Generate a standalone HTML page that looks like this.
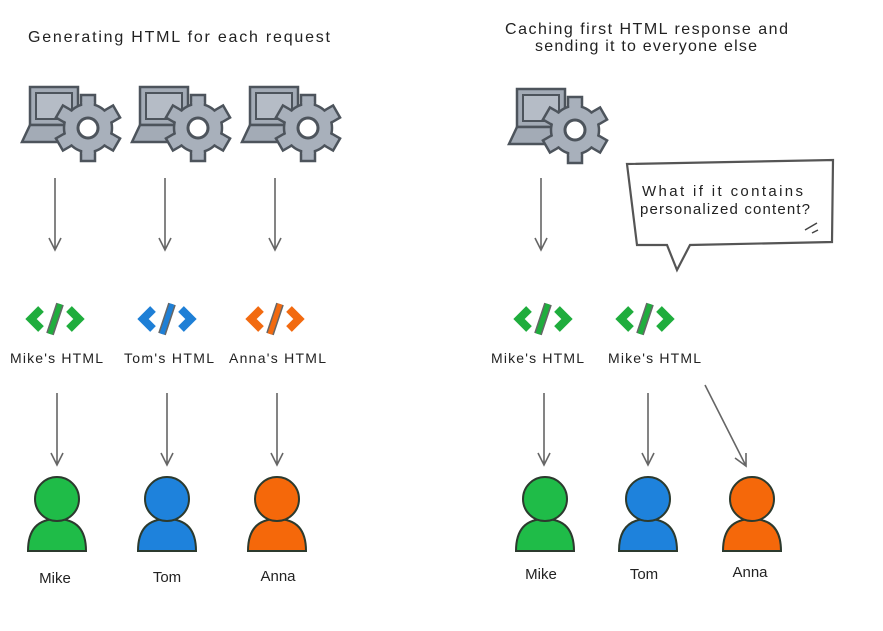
<!DOCTYPE html>
<html><head><meta charset="utf-8"><style>
html,body{margin:0;padding:0;background:#fff;width:883px;height:631px;overflow:hidden}
svg text{font-family:"Liberation Sans",sans-serif;fill:#222}
</style></head><body>
<svg width="883" height="631" viewBox="0 0 883 631" xmlns="http://www.w3.org/2000/svg">
<defs>
<g id="srv">
  <rect x="-58" y="-41" width="48" height="38" fill="#a3abb6" stroke="#4d545c" stroke-width="2.5"/>
  <rect x="-52" y="-35" width="36" height="26" fill="#b5bcc6" stroke="#4d545c" stroke-width="2"/>
  <polygon points="-58,-3 -20,-3 -20,14 -66,14" fill="#a3abb6" stroke="#4d545c" stroke-width="2.5"/>
  <g fill="#a8b0bb" stroke="#4d545c" stroke-width="2.5">
    <rect x="-7" y="-33" width="14" height="14" transform="rotate(0)"/>
    <rect x="-7" y="-33" width="14" height="14" transform="rotate(60)"/>
    <rect x="-7" y="-33" width="14" height="14" transform="rotate(120)"/>
    <rect x="-7" y="-33" width="14" height="14" transform="rotate(180)"/>
    <rect x="-7" y="-33" width="14" height="14" transform="rotate(240)"/>
    <rect x="-7" y="-33" width="14" height="14" transform="rotate(300)"/>
  </g>
  <circle r="24" fill="#a8b0bb" stroke="#4d545c" stroke-width="2.5"/>
  <g fill="#a8b0bb">
    <rect x="-5.7" y="-26" width="11.4" height="8" transform="rotate(0)"/>
    <rect x="-5.7" y="-26" width="11.4" height="8" transform="rotate(60)"/>
    <rect x="-5.7" y="-26" width="11.4" height="8" transform="rotate(120)"/>
    <rect x="-5.7" y="-26" width="11.4" height="8" transform="rotate(180)"/>
    <rect x="-5.7" y="-26" width="11.4" height="8" transform="rotate(240)"/>
    <rect x="-5.7" y="-26" width="11.4" height="8" transform="rotate(300)"/>
  </g>
  <circle r="10" fill="#fff" stroke="#4d545c" stroke-width="3"/>
</g>
<g id="code">
  <polyline points="-14,-10 -24,0 -14,10" fill="none" stroke="currentColor" stroke-width="8"/>
  <polyline points="14,-10 24,0 14,10" fill="none" stroke="currentColor" stroke-width="8"/>
  <line x1="5" y1="-15" x2="-5" y2="15" stroke="#666" stroke-width="8"/>
  <line x1="5" y1="-15" x2="-5" y2="15" stroke="currentColor" stroke-width="5"/>
</g>
<g id="person">
  <path d="M-29,46 Q-29,14 0,14 Q29,14 29,46 Z" fill="currentColor" stroke="#2c3a2e" stroke-width="2"/>
  <circle cx="0" cy="-6" r="22" fill="currentColor" stroke="#2c3a2e" stroke-width="2"/>
</g>
</defs>
<g font-size="16">
<text x="28" y="42" textLength="302" lengthAdjust="spacing">Generating HTML for each request</text>
<text x="505" y="34" textLength="283" lengthAdjust="spacing">Caching first HTML response and</text>
<text x="535" y="51" textLength="222" lengthAdjust="spacing">sending it to everyone else</text>
</g>
<use href="#srv" x="88" y="128"/>
<use href="#srv" x="198" y="128"/>
<use href="#srv" x="308" y="128"/>
<use href="#srv" x="575" y="130"/>
<g stroke="#666" stroke-width="1.6" fill="none">
  <path d="M55,178V250M49,238L55,250L61,238"/>
  <path d="M165,178V250M159,238L165,250L171,238"/>
  <path d="M275,178V250M269,238L275,250L281,238"/>
  <path d="M541,178V250M535,238L541,250L547,238"/>
  <path d="M57,393V465M51,453L57,465L63,453"/>
  <path d="M167,393V465M161,453L167,465L173,453"/>
  <path d="M277,393V465M271,453L277,465L283,453"/>
  <path d="M544,393V465M538,453L544,465L550,453"/>
  <path d="M648,393V465M642,453L648,465L654,453"/>
  <path d="M705,385L746,466M735,458L746,466L746,453"/>
</g>
<use href="#code" x="55" y="319" color="#1fad3d"/>
<use href="#code" x="167" y="319" color="#1e7fd6"/>
<use href="#code" x="275" y="319" color="#f26a10"/>
<use href="#code" x="543" y="319" color="#1fad3d"/>
<use href="#code" x="645" y="319" color="#1fad3d"/>
<g font-size="14">
<text x="10" y="363" textLength="93" lengthAdjust="spacing">Mike's HTML</text>
<text x="124" y="363" textLength="90" lengthAdjust="spacing">Tom's HTML</text>
<text x="229" y="363" textLength="97" lengthAdjust="spacing">Anna's HTML</text>
<text x="491" y="363" textLength="93" lengthAdjust="spacing">Mike's HTML</text>
<text x="608" y="363" textLength="93" lengthAdjust="spacing">Mike's HTML</text>
</g>
<use href="#person" x="57" y="505" color="#1fbc48"/>
<use href="#person" x="167" y="505" color="#1e82dc"/>
<use href="#person" x="277" y="505" color="#f5680a"/>
<use href="#person" x="545" y="505" color="#1fbc48"/>
<use href="#person" x="648" y="505" color="#1e82dc"/>
<use href="#person" x="752" y="505" color="#f5680a"/>
<g font-size="15" text-anchor="middle">
<text x="55" y="583">Mike</text>
<text x="167" y="582">Tom</text>
<text x="278" y="581">Anna</text>
<text x="541" y="579">Mike</text>
<text x="644" y="579">Tom</text>
<text x="750" y="577">Anna</text>
</g>
<polygon points="627,164 833,160 832,242 690,245 677,270 667,245 637,245" fill="#fff" stroke="#555" stroke-width="2.2"/>
<g font-size="15">
<text x="642" y="196" textLength="161" lengthAdjust="spacing">What if it contains</text>
<text x="640" y="214" textLength="170" lengthAdjust="spacing">personalized content?</text>
</g>
<path d="M805,230l12,-7M812,233l6,-3" stroke="#444" stroke-width="1.5"/>
</svg>
</body></html>
